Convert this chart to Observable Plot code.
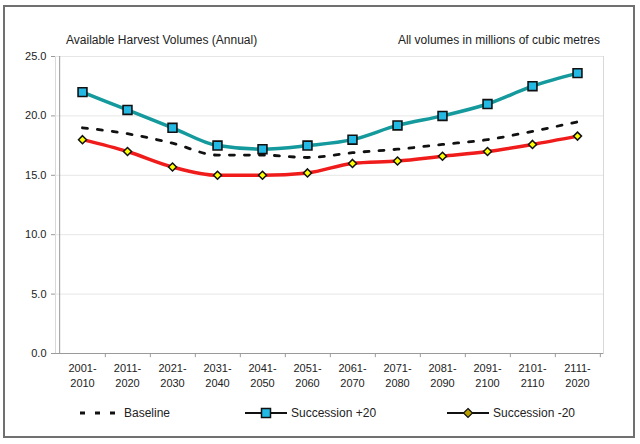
<!DOCTYPE html>
<html>
<head>
<meta charset="utf-8">
<script src="https://cdn.jsdelivr.net/npm/d3@7"></script>
<script src="https://cdn.jsdelivr.net/npm/@observablehq/plot@0.6"></script>
<style>
  html, body { margin: 0; padding: 0; background: #fff; }
  #wrap { position: relative; width: 640px; height: 444px; font-family: "Liberation Sans", Arial, sans-serif; color: #222; overflow: hidden; }
  #border { position: absolute; left: 3px; top: 5px; width: 628px; height: 429px; border: 2px solid #707070; }
  #chart { position: absolute; left: 0; top: 0; }
  #chart svg text { fill: #222; }
  .t { position: absolute; font-size: 12px; line-height: 14px; white-space: nowrap; }
  .leg { position: absolute; top: 405px; font-size: 12px; line-height: 16px; white-space: nowrap; display: flex; align-items: center; }
  .leg svg { margin-right: 4px; }
</style>
</head>
<body>
<div id="wrap">
  <div id="border"></div>
  <div id="chart"></div>
  <div class="t" style="left:66px; top:33px;">Available Harvest Volumes (Annual)</div>
  <div class="t" style="right:40px; top:33px;">All volumes in millions of cubic metres</div>
  <div class="leg" style="left:78px;" id="leg0"></div>
  <div class="leg" style="left:245px;" id="leg1"></div>
  <div class="leg" style="left:447px;" id="leg2"></div>
</div>
<script>
const periods = ["2001-2010","2011-2020","2021-2030","2031-2040","2041-2050","2051-2060",
                 "2061-2070","2071-2080","2081-2090","2091-2100","2101-2110","2111-2020"];
const baseline     = [19.0, 18.5, 17.7, 16.7, 16.7, 16.5, 16.9, 17.2, 17.6, 18.0, 18.7, 19.5];
const successionP20 = [22.0, 20.5, 19.0, 17.5, 17.2, 17.5, 18.0, 19.2, 20.0, 21.0, 22.5, 23.6];
const successionM20 = [18.0, 17.0, 15.7, 15.0, 15.0, 15.2, 16.0, 16.2, 16.6, 17.0, 17.6, 18.3];
const yTicks = [0, 5, 10, 15, 20, 25];
const seriesNames = ["Baseline", "Succession +20", "Succession -20"];

const toRows = (vals) => periods.map((p, i) => ({period: p, value: vals[i]}));
const base = toRows(baseline), plus = toRows(successionP20), minus = toRows(successionM20);

const W = 640, H = 444, mL = 55, mR = 37, mT = 56, mB = 91;
const step = (W - mL - mR) / periods.length;

const teal = "#14999d", cyan = "#22b9e4", red = "#f01c1c", yellow = "#ffff00";

const chart = Plot.plot({
  width: W, height: H,
  marginLeft: mL, marginRight: mR, marginTop: mT, marginBottom: mB,
  style: {fontFamily: "Liberation Sans, Arial, sans-serif", fontSize: "11px", color: "#999", background: "transparent", overflow: "visible"},
  x: {type: "point", domain: periods, padding: 0.5, axis: null},
  y: {domain: [0, 25], ticks: yTicks, tickFormat: d => d.toFixed(1), tickSize: 4, tickPadding: 5, label: null},
  marks: [
    Plot.frame({stroke: "#d8d8d8"}),
    Plot.ruleY(yTicks.slice(1), {stroke: "#e6e6e6"}),
    Plot.ruleY([0], {stroke: "#9a9a9a"}),
    Plot.ruleX([periods[0]], {y1: 0, y2: 25, dx: -step / 2, stroke: "#9a9a9a"}),
    Plot.ruleX(periods, {x: d => d, y1: 0, y2: -0.35, dx: step / 2, stroke: "#9a9a9a"}),
    Plot.text(periods, {x: d => d, frameAnchor: "bottom", text: d => d.replace("-", "-\n"), lineAnchor: "top", dy: 8, lineHeight: 1.35, fill: "#222", fontSize: 11}),
    Plot.line(base, {x: "period", y: "value", stroke: "#111", strokeWidth: 2.8, strokeDasharray: "5,10", curve: "monotone-x"}),
    Plot.line(minus, {x: "period", y: "value", stroke: red, strokeWidth: 3.5, curve: "monotone-x"}),
    Plot.line(plus, {x: "period", y: "value", stroke: teal, strokeWidth: 3.5, curve: "monotone-x"}),
    Plot.dot(minus, {x: "period", y: "value", symbol: "diamond2", r: 3.6, fill: yellow, stroke: "#111", strokeWidth: 1.5}),
    Plot.dot(plus, {x: "period", y: "value", symbol: "square", r: 5, fill: cyan, stroke: "#111", strokeWidth: 1.6})
  ]
});
document.getElementById("chart").appendChild(chart);

// legend
function swatch(id, name, kind) {
  const el = d3.select("#" + id);
  const s = el.append("svg").attr("width", 42).attr("height", 16);
  if (kind === 0) {
    s.append("line").attr("x1", 2).attr("x2", 40).attr("y1", 8).attr("y2", 8)
      .attr("stroke", "#111").attr("stroke-width", 2.8).attr("stroke-dasharray", "5,10");
  } else {
    s.append("line").attr("x1", 0).attr("x2", 42).attr("y1", 8).attr("y2", 8)
      .attr("stroke", "#111").attr("stroke-width", 2);
    if (kind === 1) {
      s.append("rect").attr("x", 16.5).attr("y", 3.5).attr("width", 9).attr("height", 9)
        .attr("fill", cyan).attr("stroke", "#111").attr("stroke-width", 1.5);
    } else {
      s.append("path").attr("d", "M21,3.5 L25.5,8 L21,12.5 L16.5,8 Z")
        .attr("fill", "#b8a000").attr("stroke", "#111").attr("stroke-width", 1.2);
    }
  }
  el.append("span").text(name);
}
swatch("leg0", seriesNames[0], 0);
swatch("leg1", seriesNames[1], 1);
swatch("leg2", seriesNames[2], 2);
</script>
</body>
</html>
